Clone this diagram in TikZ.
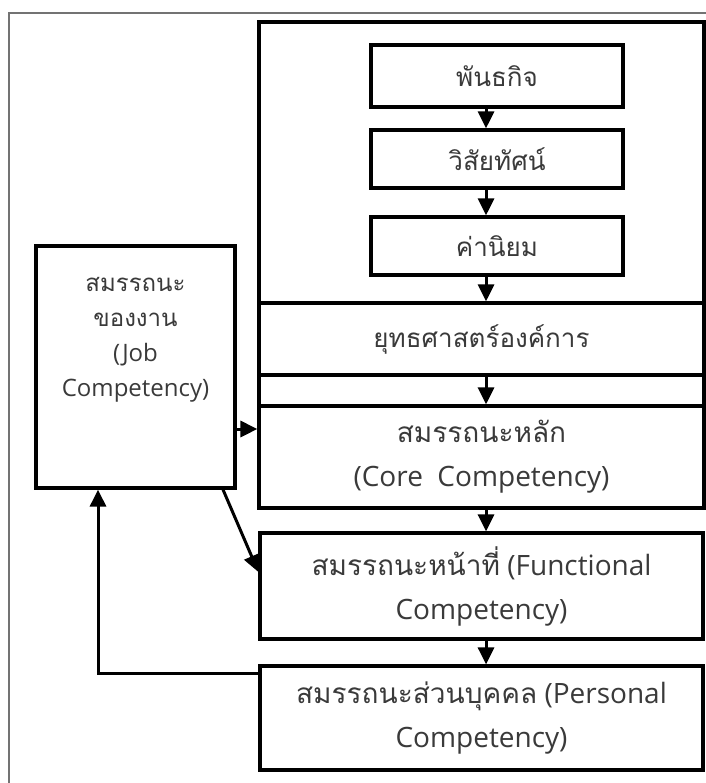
\documentclass[tikz,border=0pt]{standalone}
\usepackage{fontspec}
\setmainfont{Open Sans}
\newfontfamily\thaifont[Script=Thai]{Loma}
\newcommand\thx[1]{{\thaifont #1}}
\usetikzlibrary{arrows.meta,calc}
\definecolor{txt}{HTML}{3A3A3A}
\begin{document}
\begin{tikzpicture}[x=1pt,y=-1pt,
  box/.style={draw=black, line width=3.2pt, rectangle, inner sep=0pt, text=txt, align=center},
  big/.style={box, font=\fontsize{28}{44}\selectfont},
  small/.style={box, font=\fontsize{26}{34}\selectfont},
  arr/.style={line width=3pt, -{Triangle[length=17pt,width=16pt]}},
  frame/.style={draw=black!55, line width=1.2pt}]
\useasboundingbox (0,0) rectangle (705,783);
\fill[white] (0,0) rectangle (705,783);
% outer page frame
\coordinate (fbl) at (9,785);
\coordinate (ftl) at (9,13);
\coordinate (ftr) at (707,13);
\draw[frame] (fbl) -- (ftl) -- (ftr);
% big container
\node[box, minimum width=445pt, minimum height=486pt] (cont) at (481.5,265) {};
\node[small, minimum width=252pt, minimum height=62pt] (mis) at (497,76) {\thx{พันธกิจ}};
\node[small, minimum width=252pt, minimum height=58pt] (vis) at (497,159) {\thx{วิสัยทัศน์}};
\node[small, minimum width=252pt, minimum height=58pt] (val) at (497,246) {\thx{ค่านิยม}};
\node[small, minimum width=445pt, minimum height=72pt] (str) at (481.5,339) {\thx{ยุทธศาสตร์องค์การ}};
\node[big, minimum width=445pt, minimum height=102pt] (core) at (481.5,457) {\thx{สมรรถนะหลัก}\\(Core~~Competency)};
\node[big, minimum width=443pt, minimum height=106pt] (func) at (481.5,586) {\thx{สมรรถนะหน้าที่} (Functional\\Competency)};
\node[big, minimum width=443pt, minimum height=104pt] (pers) at (481.5,718) {\thx{สมรรถนะส่วนบุคคล} (Personal\\Competency)};
% job competency
\node[box, minimum width=199pt, minimum height=242pt] (job) at (135.5,367) {};
\node[text=txt, align=center, anchor=north, font=\fontsize{24}{35}\selectfont] (jobtxt) at (135.5,274) {\thx{สมรรถนะ}\\\thx{ของงาน}\\(Job\\Competency)};
% arrow column
\coordinate (ax) at (486,0);
\draw[arr] (mis.south -| ax) -- (vis.north -| ax);
\draw[arr] (vis.south -| ax) -- (val.north -| ax);
\draw[arr] (val.south -| ax) -- (str.north -| ax);
\draw[arr] (str.south -| ax) -- (core.north -| ax);
\draw[arr] (core.south -| ax) -- (func.north -| ax);
\draw[arr] (func.south -| ax) -- (pers.north -| ax);
% job links
\coordinate (jc) at (0,429);
\draw[arr] (job.east |- jc) -- (core.west |- jc);
\coordinate (jd) at (223,0);
\coordinate (fd) at (0,572);
\draw[arr] (job.south -| jd) -- (func.west |- fd);
\coordinate (fb) at (98,673);
\draw[arr] (pers.west |- fb) -- (fb) -- (job.south -| fb);
\end{tikzpicture}
\end{document}
